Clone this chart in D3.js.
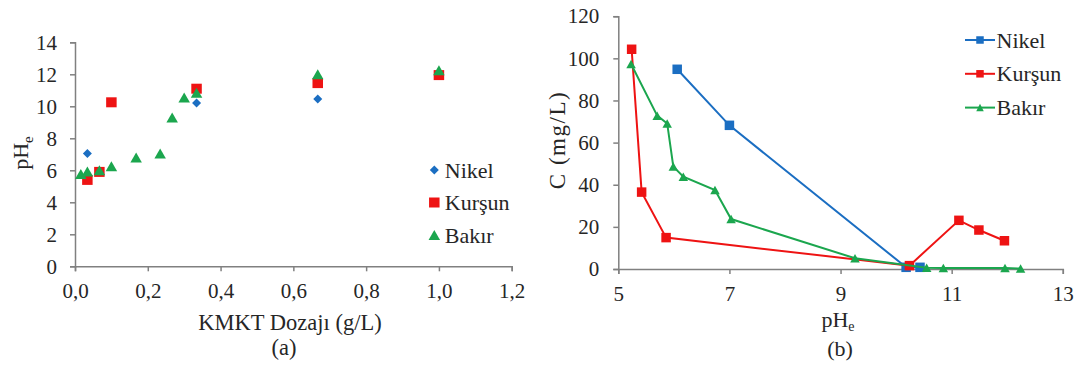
<!DOCTYPE html>
<html>
<head>
<meta charset="utf-8">
<script src="https://cdn.jsdelivr.net/npm/d3@7"></script>
<style>
  body { margin: 0; background: #fff; }
  svg text { font-family: "Liberation Serif"; fill: #262626; }
</style>
</head>
<body>
<svg width="1077" height="367"></svg>
<script>
// (a) pHe vs KMKT dosage
const nikelA = [[0.034, 7.05], [0.334, 10.2], [0.667, 10.45], [1.0, 11.95]];
const kursunA = [[0.034, 5.4], [0.067, 5.9], [0.1, 10.25], [0.334, 11.1], [0.667, 11.45], [1.0, 11.95]];
const bakirA = [[0.016, 5.77], [0.034, 5.92], [0.067, 6.0], [0.1, 6.25], [0.168, 6.8], [0.234, 7.05],
                [0.267, 9.3], [0.3, 10.55], [0.334, 10.85], [0.667, 12.0], [1.0, 12.25]];

// (b) C vs pHe
const nikelB = [[6.06, 94.8], [7.0, 68.2], [10.18, 0.8], [10.43, 0.8]];
const kursunB = [[5.24, 104.3], [5.42, 36.5], [5.86, 14.9], [10.24, 1.6], [11.13, 23.1], [11.49, 18.5], [11.95, 13.4]];
const bakirB = [[5.23, 97.3], [5.7, 72.8], [5.88, 69.1], [5.99, 48.6], [6.17, 43.8], [6.74, 37.5], [7.03, 23.7],
                [9.26, 5.1], [10.55, 0.6], [10.85, 0.5], [11.96, 0.5], [12.24, 0.2]];

const xTicksA = [0, 0.2, 0.4, 0.6, 0.8, 1.0, 1.2];
const yTicksA = [0, 2, 4, 6, 8, 10, 12, 14];
const xTicksB = [5, 7, 9, 11, 13];
const yTicksB = [0, 20, 40, 60, 80, 100, 120];
const names = ["Nikel", "Kurşun", "Bakır"];

const colors = { "Nikel": "#1b6ec2", "Kurşun": "#ee1313", "Bakır": "#1ba64e" };
const axisColor = "#808080";
const serif = '"Liberation Serif"';
const comma = d => d3.format(".1f")(d).replace(".", ",");

const svg = d3.select("svg");

function styleAxis(g) {
  g.attr("font-family", serif);
  g.selectAll("path, line").attr("stroke", axisColor).attr("stroke-width", 1.5);
  g.selectAll("text").style("font-size", "21px").style("font-family", serif).attr("fill", "#262626");
}

// markers as plain paths, w = width, h = height
function marker(g, shape, color, w, h) {
  let d;
  if (shape === "diamond") d = `M0,${-h / 2}L${w / 2},0L0,${h / 2}L${-w / 2},0Z`;
  else if (shape === "square") d = `M${-w / 2},${-h / 2}h${w}v${h}h${-w}Z`;
  else d = `M0,${-h / 2}L${w / 2},${h / 2}L${-w / 2},${h / 2}Z`;
  g.append("path").attr("d", d).attr("fill", color);
}

function label(x, y, txt, size, rotate) {
  return svg.append("text")
    .attr("transform", `translate(${x},${y})` + (rotate ? " rotate(-90)" : ""))
    .attr("text-anchor", "middle").style("font-size", size + "px").style("font-family", serif)
    .text(txt);
}

// ---------- chart (a) ----------
const xA = d3.scaleLinear().domain([0, 1.2]).range([75, 511.7]);
const yA = d3.scaleLinear().domain([0, 14]).range([266.3, 42.3]);

svg.append("g").attr("transform", `translate(0,${yA(0)})`)
  .call(d3.axisBottom(xA).tickValues(xTicksA).tickFormat(comma).tickSize(5).tickPadding(12))
  .call(styleAxis);
svg.append("g").attr("transform", `translate(${xA(0)},0)`)
  .call(d3.axisLeft(yA).tickValues(yTicksA).tickSize(5).tickPadding(13))
  .call(styleAxis);

const sizeA = { diamond: [9, 9], square: [10.5, 10], triangle: [11.5, 10] };
const seriesA = [[nikelA, "diamond"], [kursunA, "square"], [bakirA, "triangle"]];
seriesA.forEach(([data, shape], i) => {
  const c = colors[names[i]];
  svg.append("g").selectAll("g").data(data).join("g")
    .attr("transform", d => `translate(${xA(d[0])},${yA(d[1])})`)
    .each(function () { marker(d3.select(this), shape, c, ...sizeA[shape]); });
});

// legend (a)
names.forEach((n, i) => {
  const g = svg.append("g").attr("transform", `translate(434.3,${170 + i * 32.5})`);
  const shape = seriesA[i][1];
  marker(g, shape, colors[n], ...sizeA[shape]);
  g.append("text").attr("x", 10.5).attr("y", 7.5).style("font-size", "22px").style("font-family", serif).text(n);
});

label(290, 330, "KMKT Dozajı (g/L)", 22.5);
label(284, 355, "(a)", 22.5);
const tA = label(0, 0, "", 22, true).attr("transform", "translate(28,153) rotate(-90)");
tA.append("tspan").text("pH");
tA.append("tspan").attr("dy", 5).style("font-size", "15px").text("e");

// ---------- chart (b) ----------
const xB = d3.scaleLinear().domain([5, 13]).range([618.3, 1062.8]);
const yB = d3.scaleLinear().domain([0, 120]).range([269, 16.2]);

svg.append("g").attr("transform", `translate(0,${yB(0)})`)
  .call(d3.axisBottom(xB).tickValues(xTicksB).tickSize(5).tickPadding(12))
  .call(styleAxis);
svg.append("g").attr("transform", `translate(${xB(5)},0)`)
  .call(d3.axisLeft(yB).tickValues(yTicksB).tickSize(5).tickPadding(14))
  .call(styleAxis);

const sizeB = { square: [9.5, 9.5], triangle: [9.5, 8.5] };
const line = d3.line().x(d => xB(d[0])).y(d => yB(d[1]));
const seriesB = [[nikelB, "square"], [kursunB, "square"], [bakirB, "triangle"]];
seriesB.forEach(([data, shape], i) => {
  const c = colors[names[i]];
  svg.append("path").datum(data).attr("d", line)
    .attr("fill", "none").attr("stroke", c).attr("stroke-width", 2);
  svg.append("g").selectAll("g").data(data).join("g")
    .attr("transform", d => `translate(${xB(d[0])},${yB(d[1])})`)
    .each(function () { marker(d3.select(this), shape, c, ...sizeB[shape]); });
});

// legend (b)
names.forEach((n, i) => {
  const g = svg.append("g").attr("transform", `translate(980,${40 + i * 33.8})`);
  g.append("line").attr("x1", -15).attr("x2", 15).attr("stroke", colors[n]).attr("stroke-width", 2);
  marker(g, seriesB[i][1], colors[n], 7.5, 7.5);
  g.append("text").attr("x", 16.5).attr("y", 7.5).style("font-size", "22px").style("font-family", serif).text(n);
});

const tB = label(838, 327, "", 22);
tB.append("tspan").text("pH");
tB.append("tspan").attr("dy", 4).style("font-size", "14px").text("e");
label(840, 356, "(b)", 22);
label(565, 140, "C (mg/L)", 23, true).style("letter-spacing", "1.5px");
</script>
</body>
</html>
